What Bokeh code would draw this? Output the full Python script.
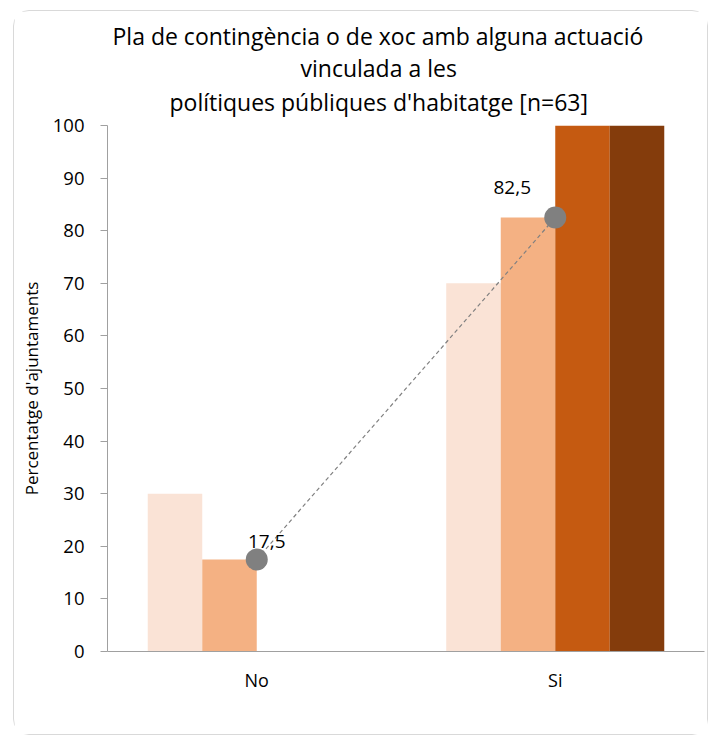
from bokeh.plotting import figure
from bokeh.models import ColumnDataSource, FactorRange, Range1d, Title, LabelSet, FixedTicker
from bokeh.transform import dodge
from bokeh.core.properties import value
from bokeh.embed import file_html
from bokeh.resources import INLINE

# ---- data ----
categories = ["No", "Si"]
serie_1 = [30, 70]
serie_2 = [17.5, 82.5]
serie_3 = [0, 100]
serie_4 = [0, 100]
linia = [17.5, 82.5]
y_ticks = [0, 10, 20, 30, 40, 50, 60, 70, 80, 90, 100]
title_lines = [
    "Pla de contingència o de xoc amb alguna actuació",
    "vinculada a les",
    "polítiques públiques d'habitatge [n=63]",
]
y_label = "Percentatge d'ajuntaments"

# ---- styles ----
FONT = "Open Sans"
colors = ["#FAE3D6", "#F4B183", "#C55A11", "#843C0C"]
bar_w = 0.1826
offsets = [-1.5 * bar_w, -0.5 * bar_w, 0.5 * bar_w, 1.5 * bar_w]
lab_dx = [10, -43]
lab_dy = [11, 24]

src = ColumnDataSource(dict(
    cat=categories, s1=serie_1, s2=serie_2, s3=serie_3, s4=serie_4,
    linia=linia,
    txt=[f"{v:.1f}".replace(".", ",") for v in linia],
    dx=lab_dx, dy=lab_dy,
))

p = figure(x_range=FactorRange(*categories), y_range=Range1d(0, 100),
           width=695, height=725, output_backend="svg", toolbar_location=None,
           min_border_left=93, min_border_right=5, min_border_top=114,
           min_border_bottom=85)
p.styles = {"margin-left": "13px", "margin-top": "10px",
            "border": "1px solid #D9D9D9", "border-radius": "16px"}
p.outline_line_color = None
p.xgrid.visible = False
p.ygrid.visible = False

for key, col, off in zip(["s1", "s2", "s3", "s4"], colors, offsets):
    p.vbar(x=dodge("cat", off, range=p.x_range), top=key, width=bar_w,
           source=src, fill_color=col, line_color=None)

p.line(x="cat", y="linia", source=src, line_color="#808080", line_width=1.2,
       line_dash="4 3")
p.scatter(x="cat", y="linia", source=src, size=22, fill_color="#808080",
          line_color=None)

labels = LabelSet(x="cat", y="linia", text="txt", source=src,
                  x_offset="dx", y_offset="dy", text_align="center",
                  text_baseline="alphabetic", text_font=value(FONT),
                  text_font_size="19px", text_color="#000000")
p.add_layout(labels)

# axes
p.yaxis.ticker = FixedTicker(ticks=y_ticks)
p.yaxis.axis_label = y_label
p.yaxis.axis_label_text_font = FONT
p.yaxis.axis_label_text_font_size = "17px"
p.yaxis.axis_label_text_font_style = "normal"
p.yaxis.axis_label_text_color = "#000000"
p.yaxis.axis_label_standoff = 7
p.yaxis.major_label_text_font = FONT
p.yaxis.major_label_text_font_size = "18.5px"
p.yaxis.major_label_text_color = "#000000"
p.yaxis.major_label_standoff = 16
p.yaxis.major_tick_out = 7
p.yaxis.major_tick_in = 0
p.yaxis.minor_tick_line_color = None
p.yaxis.axis_line_color = "#A0A0A0"
p.yaxis.major_tick_line_color = "#A0A0A0"

p.xaxis.major_label_text_font = FONT
p.xaxis.major_label_text_font_size = "18px"
p.xaxis.major_label_text_color = "#000000"
p.xaxis.major_label_standoff = 10
p.xaxis.major_tick_line_color = None
p.xaxis.axis_line_color = "#A0A0A0"

# title lines (added nearest-first)
title_offsets = [5, 193, 62]
title_standoffs = [12, -16, 16]
for line, off, so in reversed(list(zip(title_lines, title_offsets, title_standoffs))):
    p.add_layout(Title(text=line, align="left", offset=off,
                       text_font=FONT, text_font_size="23px",
                       text_font_style="normal", text_color="#000000",
                       standoff=so), "above")

open("out.html", "w").write(file_html(p, INLINE))
